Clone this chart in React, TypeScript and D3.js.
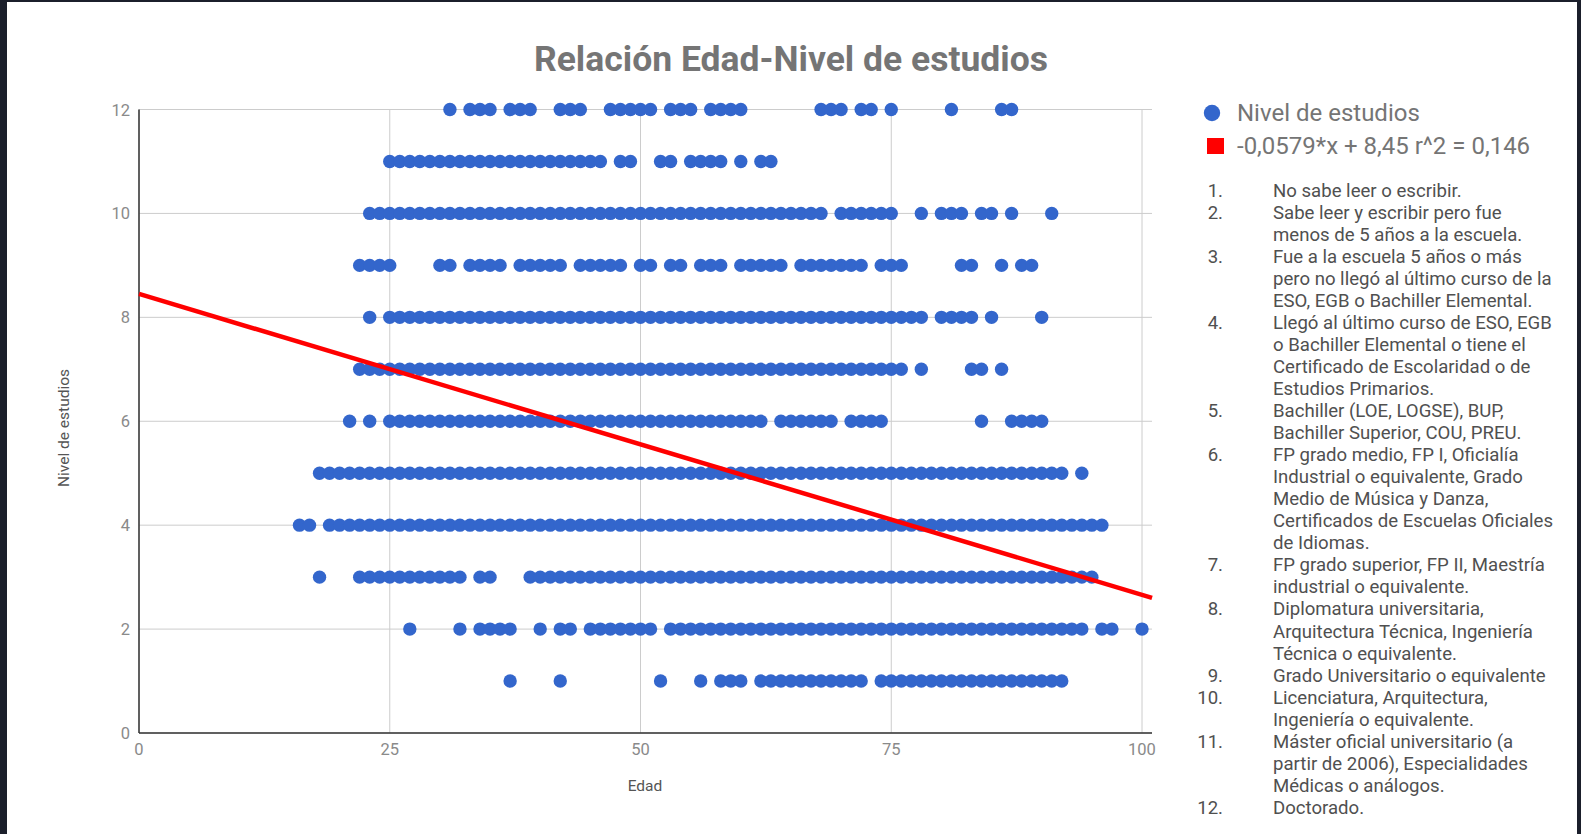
import * as d3 from "d3";

// Each level lists the runs of consecutive ages [from, to]
const levels = [1, 2, 3, 4, 5, 6, 7, 8, 9, 10, 11, 12];

const ageRuns: number[][][] = [
  [[37], [42], [52], [56], [58, 60], [62, 72], [74, 92]],
  [[27], [32], [34, 37], [40], [42, 43], [45, 51], [53, 94], [96, 97], [100]],
  [[18], [22, 32], [34, 35], [39, 95]],
  [[16, 17], [19, 96]],
  [[18, 92], [94]],
  [[21], [23], [25, 62], [64, 69], [71, 74], [84], [87, 90]],
  [[22, 76], [78], [83, 84], [86]],
  [[23], [25, 78], [80, 83], [85], [90]],
  [[22, 25], [30, 31], [33, 36], [38, 42], [44, 48], [50, 51], [53, 54], [56, 58], [60, 64], [66, 72], [74, 76], [82, 83], [86], [88, 89]],
  [[23, 68], [70, 75], [78], [80, 82], [84, 85], [87], [91]],
  [[25, 46], [48, 49], [52, 53], [55, 58], [60], [62, 63]],
  [[31], [33, 35], [37, 39], [42, 44], [47, 51], [53, 55], [57, 60], [68, 70], [72, 73], [75], [81], [86, 87]],
];

const xTicks = [0, 25, 50, 75, 100];
const yTicks = [0, 2, 4, 6, 8, 10, 12];
const xMax = 101;

const trendSlope = -0.0579;
const trendIntercept = 8.45;

const title = "Relación Edad-Nivel de estudios";
const xTitle = "Edad";
const yTitle = "Nivel de estudios";
const seriesName = "Nivel de estudios";
const trendName = "-0,0579*x + 8,45 r^2 = 0,146";

const notes: string[][] = [
  ["No sabe leer o escribir."],
  ["Sabe leer y escribir pero fue", "menos de 5 años a la escuela."],
  ["Fue a la escuela 5 años o más", "pero no llegó al último curso de la", "ESO, EGB o Bachiller Elemental."],
  ["Llegó al último curso de ESO, EGB", "o Bachiller Elemental o tiene el", "Certificado de Escolaridad o de", "Estudios Primarios."],
  ["Bachiller (LOE, LOGSE), BUP,", "Bachiller Superior, COU, PREU."],
  ["FP grado medio, FP I, Oficialía", "Industrial o equivalente, Grado", "Medio de Música y Danza,", "Certificados de Escuelas Oficiales", "de Idiomas."],
  ["FP grado superior, FP II, Maestría", "industrial o equivalente."],
  ["Diplomatura universitaria,", "Arquitectura Técnica, Ingeniería", "Técnica o equivalente."],
  ["Grado Universitario o equivalente"],
  ["Licenciatura, Arquitectura,", "Ingeniería o equivalente."],
  ["Máster oficial universitario (a", "partir de 2006), Especialidades", "Médicas o análogos."],
  ["Doctorado."],
];

const W = 1581;
const H = 834;
const plot = { left: 139, top: 109.5, bottom: 733 };
const font = "Roboto, 'Noto Sans', sans-serif";

export default function App() {
  const x = d3.scaleLinear().domain([0, 100]).range([plot.left, 1142]);
  const y = d3.scaleLinear().domain([0, 12]).range([plot.bottom, plot.top]);
  const right = x(xMax);

  const points: { age: number; level: number }[] = [];
  levels.forEach((level, i) => {
    ageRuns[i].forEach((run) => {
      const from = run[0];
      const to = run.length > 1 ? run[1] : run[0];
      for (let a = from; a <= to; a++) points.push({ age: a, level });
    });
  });

  const trend = d3
    .line<number>()
    .x((d) => x(d))
    .y((d) => y(trendSlope * d + trendIntercept));

  // list lines flattened with their item numbers
  const lineH = 22.05;
  let row = 0;
  const listRows: { num?: string; text: string; row: number }[] = [];
  notes.forEach((lines, i) => {
    lines.forEach((t, j) => {
      listRows.push({ num: j === 0 ? `${i + 1}.` : undefined, text: t, row });
      row++;
    });
  });

  return (
    <svg
      width={W}
      height={H}
      style={{ position: "absolute", left: 0, top: 0 }}
      fontFamily={font}
    >
      <rect width={W} height={H} fill="#1b1f2b" />
      <rect x={7} y={2} width={1570} height={H - 2} fill="#fff" />

      <text x={791} y={71} textAnchor="middle" fontSize={35.5} fontWeight="bold" fill="#757575">
        {title}
      </text>

      {/* grid */}
      {yTicks.map((t) => (
        <line key={"gy" + t} x1={plot.left} x2={right} y1={y(t)} y2={y(t)} stroke="#cccccc" />
      ))}
      {xTicks.map((t) => (
        <line key={"gx" + t} x1={x(t)} x2={x(t)} y1={plot.top} y2={plot.bottom} stroke="#cccccc" />
      ))}
      <line x1={plot.left} x2={plot.left} y1={plot.top} y2={plot.bottom} stroke="#333" strokeWidth={1.5} />
      <line x1={plot.left} x2={right} y1={plot.bottom} y2={plot.bottom} stroke="#333" strokeWidth={1.5} />

      {yTicks.map((t) => (
        <text key={"ly" + t} x={130} y={y(t) + 6} textAnchor="end" fontSize={16.5} fill="#8a8a8a">
          {t}
        </text>
      ))}
      {xTicks.map((t) => (
        <text key={"lx" + t} x={x(t)} y={755} textAnchor="middle" fontSize={16.5} fill="#8a8a8a">
          {t}
        </text>
      ))}

      <text x={645} y={791} textAnchor="middle" fontSize={15.5} fill="#555">
        {xTitle}
      </text>
      <text
        transform={`translate(69,${428})rotate(-90)`}
        textAnchor="middle"
        fontSize={15.5}
        fill="#555"
      >
        {yTitle}
      </text>

      {points.map((p, i) => (
        <circle key={i} cx={x(p.age)} cy={y(p.level)} r={6.7} fill="#3366cc" />
      ))}

      <path d={trend([0, xMax]) ?? ""} stroke="#ff0000" strokeWidth={4.5} fill="none" />

      {/* legend */}
      <circle cx={1212} cy={113} r={8.2} fill="#3366cc" />
      <text x={1237} y={121} fontSize={24} fill="#757575">
        {seriesName}
      </text>
      <rect x={1207} y={138} width={17} height={16} fill="#ff0000" />
      <text x={1237} y={154} fontSize={24} fill="#757575">
        {trendName}
      </text>

      {listRows.map((r) => (
        <g key={"n" + r.row} fontSize={18.6} fill="#505050">
          {r.num && (
            <text x={1223} y={196.5 + r.row * lineH} textAnchor="end">
              {r.num}
            </text>
          )}
          <text x={1273} y={196.5 + r.row * lineH}>
            {r.text}
          </text>
        </g>
      ))}
    </svg>
  );
}
